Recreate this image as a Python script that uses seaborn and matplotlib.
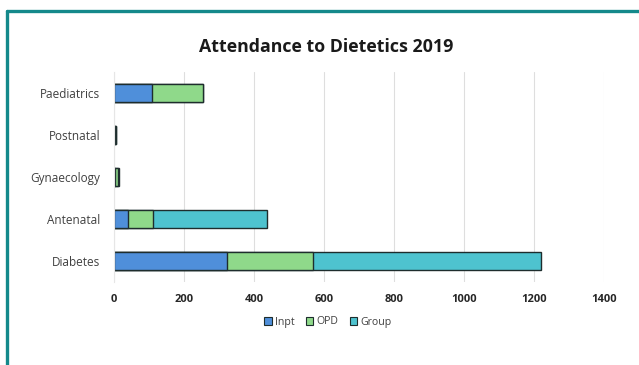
import matplotlib
matplotlib.use("Agg")
import matplotlib.pyplot as plt
import seaborn as sns
import pandas as pd
from matplotlib.patches import Patch
from matplotlib.lines import Line2D

# Attendance figures per clinic (patients seen in 2019)
categories = ["Paediatrics", "Postnatal", "Gynaecology", "Antenatal", "Diabetes"]
inpt = [108, 3, 4, 39, 324]
opd = [147, 2, 6, 71, 244]
group = [0, 0, 3, 326, 652]
series_names = ["Inpt", "OPD", "Group"]
series_colors = ["#4f8fda", "#8fd98a", "#4ec3cf"]
x_ticks = [0, 200, 400, 600, 800, 1000, 1200, 1400]

sns.set_theme(style="white")
plt.rcParams["font.family"] = ["Open Sans", "DejaVu Sans"]

df = pd.DataFrame({"clinic": categories, "Inpt": inpt, "OPD": opd, "Group": group})
# cumulative totals so the segments stack left to right
df["cum_inpt"] = df["Inpt"]
df["cum_opd"] = df["Inpt"] + df["OPD"]
df["cum_group"] = df["cum_opd"] + df["Group"]

fig = plt.figure(figsize=(6.39, 3.65), dpi=100)
ax = fig.add_axes([114 / 639, 1 - 282 / 365, 490 / 639, 210 / 365])

edge = "#1e2d2d"
for col, color in zip(["cum_group", "cum_opd", "cum_inpt"], series_colors[::-1]):
    sns.barplot(data=df, x=col, y="clinic", order=categories, orient="h",
                color=color, saturation=1, width=0.43, edgecolor=edge,
                linewidth=1.0, ax=ax)

ax.set_xlim(0, 1400)
ax.set_ylim(4.5, -0.5)
ax.set_xticks(x_ticks)
ax.set_xticklabels([str(t) for t in x_ticks], fontsize=8, fontweight="bold",
                   color="#262626")
ax.tick_params(axis="x", length=0, pad=9)
ax.tick_params(axis="y", length=0, pad=10, labelsize=8.5, labelcolor="#404040")
ax.set_xlabel("")
ax.set_ylabel("")
ax.grid(axis="x", color="#dedede", linewidth=0.8)
ax.set_axisbelow(True)
for side in ["top", "right", "bottom"]:
    ax.spines[side].set_visible(False)
ax.spines["left"].set_color("#e6e6e6")
ax.spines["left"].set_linewidth(0.8)

fig.suptitle("Attendance to Dietetics 2019", x=326 / 639, y=1 - 47 / 365, va="center",
             fontsize=12.8, fontweight="bold", color="#1a1a1a")

handles = [Patch(facecolor=c, edgecolor=edge, linewidth=0.8, label=n)
           for c, n in zip(series_colors, series_names)]
fig.legend(handles=handles, loc="center", bbox_to_anchor=(328 / 639, 1 - 322 / 365),
           ncol=3, frameon=False, fontsize=7.6, handlelength=0.7, handleheight=0.7,
           handletextpad=0.3, columnspacing=1.1, labelcolor="#404040")

# teal frame around the panel
frame_color = "#14898b"
fig.add_artist(Line2D([6.5 / 639, 1.0], [1 - 11 / 365, 1 - 11 / 365],
                      transform=fig.transFigure, color=frame_color, linewidth=2.4))
fig.add_artist(Line2D([6.5 / 639, 6.5 / 639], [0.0, 1 - 11 / 365],
                      transform=fig.transFigure, color=frame_color, linewidth=2.4))

fig.savefig("out.png", dpi=100, facecolor="white")
